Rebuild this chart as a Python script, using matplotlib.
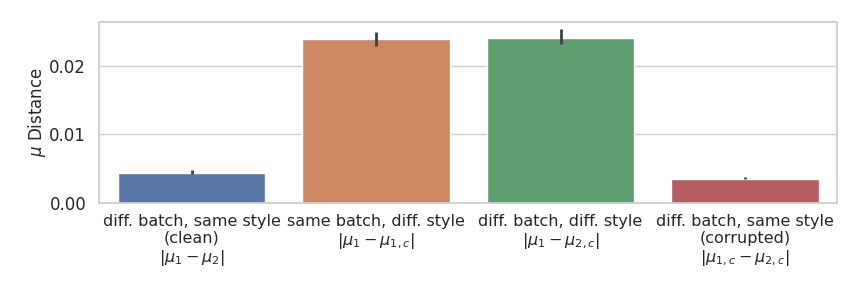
import matplotlib
matplotlib.use("Agg")
import matplotlib.pyplot as plt
import seaborn as sns

sns.set_theme(style="whitegrid")
plt.rcParams['font.family'] = ['DejaVu Sans']

labels = [
    "diff. batch, same style\n(clean)\n$|\\mu_1 - \\mu_2|$",
    "same batch, diff. style\n$|\\mu_1 - \\mu_{1,c}|$",
    "diff. batch, diff. style\n$|\\mu_1 - \\mu_{2,c}|$",
    "diff. batch, same style\n(corrupted)\n$|\\mu_{1,c} - \\mu_{2,c}|$",
]
means = [0.00438, 0.02394, 0.02409, 0.00350]
ci_low = [0.00430, 0.02290, 0.02320, 0.00345]
ci_high = [0.00480, 0.02490, 0.02540, 0.00380]
colors = ["#5875a4", "#cc8963", "#5f9e6e", "#b55d60"]

fig, ax = plt.subplots(figsize=(8.64, 2.88), dpi=100)
x = range(len(means))
ax.bar(x, means, width=0.8, color=colors, edgecolor="white", linewidth=1)
for i in x:
    ax.plot([i, i], [ci_low[i], ci_high[i]], color="#3f3f3f", lw=2.0, solid_capstyle="butt")

ax.set_xticks(list(x))
ax.set_xticklabels(labels, fontsize=11.5, va="top", linespacing=1.15)
ax.tick_params(axis="x", pad=2)
ax.tick_params(axis="y", labelsize=12)
ax.set_xlim(-0.5, 3.5)
ax.set_ylim(0, 0.02642)
ax.set_yticks([0, 0.01, 0.02])
ax.set_yticklabels(["0.00", "0.01", "0.02"])
ax.set_ylabel("$\\mu$ Distance", fontsize=12, labelpad=1)
ax.xaxis.grid(False)

fig.subplots_adjust(left=0.115, right=0.969, top=0.924, bottom=0.295)
fig.savefig("out.png", dpi=100)
